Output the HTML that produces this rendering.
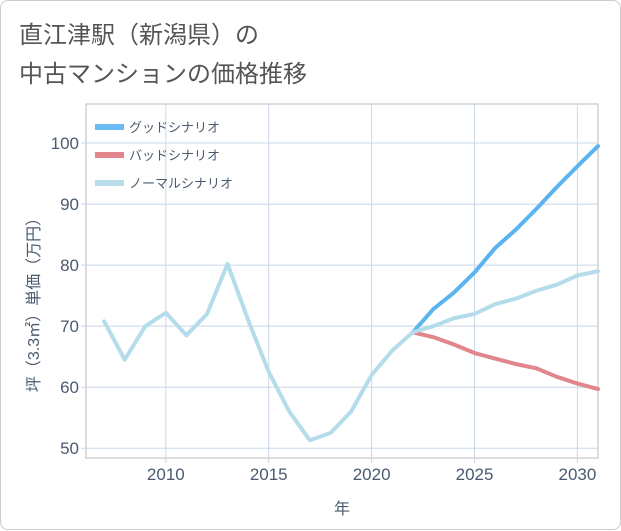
<!DOCTYPE html>
<html><head><meta charset="utf-8"><style>
body{margin:0;background:#fff;font-family:"Liberation Sans","Noto Sans CJK JP",sans-serif;}
#card{position:absolute;left:0;top:0;width:619px;height:528px;border:1px solid #ccc;border-radius:8px;background:#fff;}
.t{position:absolute;left:18px;font-size:24px;color:#555;}
</style></head><body>
<div id="card">
<div class="t" style="top:14px">直江津駅（新潟県）の</div>
<div class="t" style="top:53px">中古マンションの価格推移</div>
<svg id="s" width="621" height="530" style="position:absolute;left:0;top:0"></svg>
</div>
<script>
const years=[2007,2008,2009,2010,2011,2012,2013,2014,2015,2016,2017,2018,2019,2020,2021,2022,2023,2024,2025,2026,2027,2028,2029,2030,2031];
const normal=[70.8,64.5,70,72.2,68.5,72,80.2,71,62.5,56,51.3,52.5,56,62,66,69,70,71.3,72,73.6,74.5,75.8,76.8,78.3,79];
const fYears=[2022,2023,2024,2025,2026,2027,2028,2029,2030,2031];
const good=[69,72.8,75.5,78.8,82.8,85.8,89.2,92.8,96.2,99.5];
const bad=[69,68.2,67,65.6,64.7,63.8,63.1,61.7,60.6,59.7];
const xTicks=[2010,2015,2020,2025,2030];
const yTicks=[50,60,70,80,90,100];
const L=85,R=597,T=103,B=457,x0=2006.12,x1=2031,y0=48.4,y1=106.4;
const X=v=>L+(v-x0)/(x1-x0)*(R-L), Y=v=>B-(v-y0)/(y1-y0)*(B-T);
const s=document.getElementById('s');const NS='http://www.w3.org/2000/svg';
function mk(t,a,p){const e=document.createElementNS(NS,t);for(const k in a)e.setAttribute(k,a[k]);(p||s).appendChild(e);return e;}
let r=mk('rect',{x:L,y:T,width:R-L,height:B-T,fill:'#fff',stroke:'#bbb'});

xTicks.forEach(v=>{mk('line',{x1:X(v),x2:X(v),y1:T,y2:B+5,stroke:'#c8d8e8'});
const t=mk('text',{x:X(v),y:479,'text-anchor':'middle','font-size':17,fill:'#4a5a70'});t.textContent=v;
});
yTicks.forEach(v=>{mk('line',{x1:L-5,x2:R,y1:Y(v),y2:Y(v),stroke:'#c8d8e8'});
const t=mk('text',{x:78,y:Y(v)+6,'text-anchor':'end','font-size':17,fill:'#4a5a70'});t.textContent=v;
});
function line(xs,ys,c,n){const p=mk('polyline',{points:xs.map((x,i)=>X(x)+','+Y(ys[i])).join(' '),fill:'none',stroke:c,'stroke-width':4,'stroke-linejoin':'round','stroke-linecap':'round'});
}
line(fYears,bad,'#e0868c','bad-scenario-line');
line(fYears,good,'#5ab4f0','good-scenario-line');
line(years,normal,'#b4dcea','normal-scenario-line');
const leg=[['グッドシナリオ','#6abcf2'],['バッドシナリオ','#e0868c'],['ノーマルシナリオ','#b8dcea']];
leg.forEach((l,i)=>{const g=mk('g',{});
mk('line',{x1:94,x2:123,y1:126+i*28,y2:126+i*28,stroke:l[1],'stroke-width':6},g);
const t=mk('text',{x:128,y:131+i*28,'font-size':13,fill:'#4a5a70'},g);t.textContent=l[0];});
let xt=mk('text',{x:341,y:513,'text-anchor':'middle','font-size':16,fill:'#4a5a70'});xt.textContent='年';

let yt=mk('text',{x:0,y:0,transform:'translate(38,300) rotate(-90)','text-anchor':'middle','font-size':16,fill:'#4a5a70'});yt.textContent='坪（3.3㎡）単価（万円）';

</script></body></html>
